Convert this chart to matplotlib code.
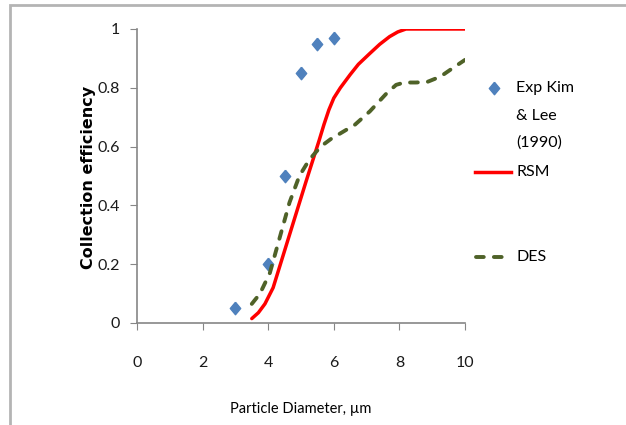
# collection efficiency vs particle diameter: experiment, RSM and DES

import matplotlib.pyplot as plt
from matplotlib.lines import Line2D
from matplotlib.patches import Rectangle

# experimental points (Kim & Lee 1990)
exp_d = [3.0, 4.0, 4.5, 5.0, 5.5, 6.0]
exp_eff = [0.05, 0.20, 0.50, 0.85, 0.95, 0.97]

# RSM curve
rsm_d = [3.5, 3.7, 3.9, 4.15, 4.4, 4.65, 4.9, 5.15, 5.35, 5.55, 5.7, 5.85, 6.0, 6.2,
         6.5, 6.75, 7.1, 7.4, 7.7, 7.95, 8.2, 9.0, 10.0]
rsm_eff = [0.015, 0.035, 0.065, 0.12, 0.21, 0.30, 0.39, 0.48, 0.55, 0.62, 0.675, 0.725, 0.765, 0.80,
           0.845, 0.88, 0.917, 0.948, 0.974, 0.99, 1.0, 1.0, 1.0]

# DES curve
des_d = [3.5, 3.75, 4.05, 4.35, 4.65, 4.95, 5.25, 5.6, 5.9, 6.2, 6.65, 7.1, 7.6, 7.9,
         8.15, 8.5, 8.85, 9.25, 9.6, 10.0]
des_eff = [0.065, 0.10, 0.17, 0.29, 0.41, 0.50, 0.555, 0.60, 0.625, 0.645, 0.675, 0.72, 0.78, 0.81,
           0.818, 0.818, 0.82, 0.838, 0.865, 0.895]

x_ticks = [0, 2, 4, 6, 8, 10]
y_ticks = [0, 0.2, 0.4, 0.6, 0.8, 1]

blue = '#4F81BD'
red = '#FF0000'
green = '#4F6228'
grey = '#868686'
font = ['Lato', 'DejaVu Sans']
diamond = [(0, 1), (0.83, 0), (0, -1), (-0.83, 0), (0, 1)]

W, H = 626, 425
fig = plt.figure(figsize=(W / 100, H / 100), dpi=100)
ax = fig.add_axes([137 / W, 1 - 323 / H, (465 - 137) / W, (323 - 29) / H])

ax.plot(exp_d, exp_eff, linestyle='none', marker=diamond, markersize=9, color=blue)
ax.plot(rsm_d, rsm_eff, color=red, lw=2.5, solid_capstyle='round', solid_joinstyle='round')
ax.plot(des_d, des_eff, color=green, lw=2.8, dashes=(2.0, 2.6), dash_capstyle='round')

ax.set_xlim(0, 10)
ax.set_ylim(0, 1)
ax.set_xticks(x_ticks)
ax.set_xticklabels([str(v) for v in x_ticks], family=font, fontsize=11.5)
ax.set_yticks(y_ticks)
ax.set_yticklabels([f'{v:g}' for v in y_ticks], family=font, fontsize=11.5)
ax.tick_params(axis='x', direction='out', length=5, color=grey, pad=19, labelcolor='#1a1a1a')
ax.tick_params(axis='y', direction='out', length=5, color=grey, pad=7, labelcolor='#1a1a1a')
for s in ['top', 'right']:
    ax.spines[s].set_visible(False)
for s in ['left', 'bottom']:
    ax.spines[s].set_color(grey)
    ax.spines[s].set_linewidth(1.2)

ax.set_xlabel('Particle Diameter, µm', family=font, fontsize=10.5, labelpad=23)
fig.text(88 / W, 1 - 177 / H, 'Collection efficiency', rotation=90, fontsize=11.5,
         fontweight='bold', ha='center', va='center')

# legend drawn to sit like the original one
def px(x, y):
    return x / W, 1 - y / H

fig.add_artist(Line2D(*zip(px(494, 88)), marker=diamond, markersize=9, color=blue, linestyle='none'))
for i, line in enumerate(['Exp Kim', '& Lee', '(1990)']):
    fig.text(*px(516, 88 + 27.5 * i), line, family=font, fontsize=11.5, va='center')
fig.add_artist(Line2D(*zip(px(475, 172), px(511, 172)), color=red, lw=2.5))
fig.text(*px(516, 172), 'RSM', family=font, fontsize=11.5, va='center')
fig.add_artist(Line2D(*zip(px(476, 257), px(510, 257)), color=green, lw=2.8,
                      dashes=(2.0, 2.6), dash_capstyle='round'))
fig.text(*px(516, 257), 'DES', family=font, fontsize=11.5, va='center')

# outer chart frame, only its top and left edges show
fig.add_artist(Rectangle((10 / W, -0.2), 2, 1.2 - 5 / H, transform=fig.transFigure,
                         fill=False, edgecolor='#b4b4b4', lw=2))

fig.savefig('out.png', dpi=100)
